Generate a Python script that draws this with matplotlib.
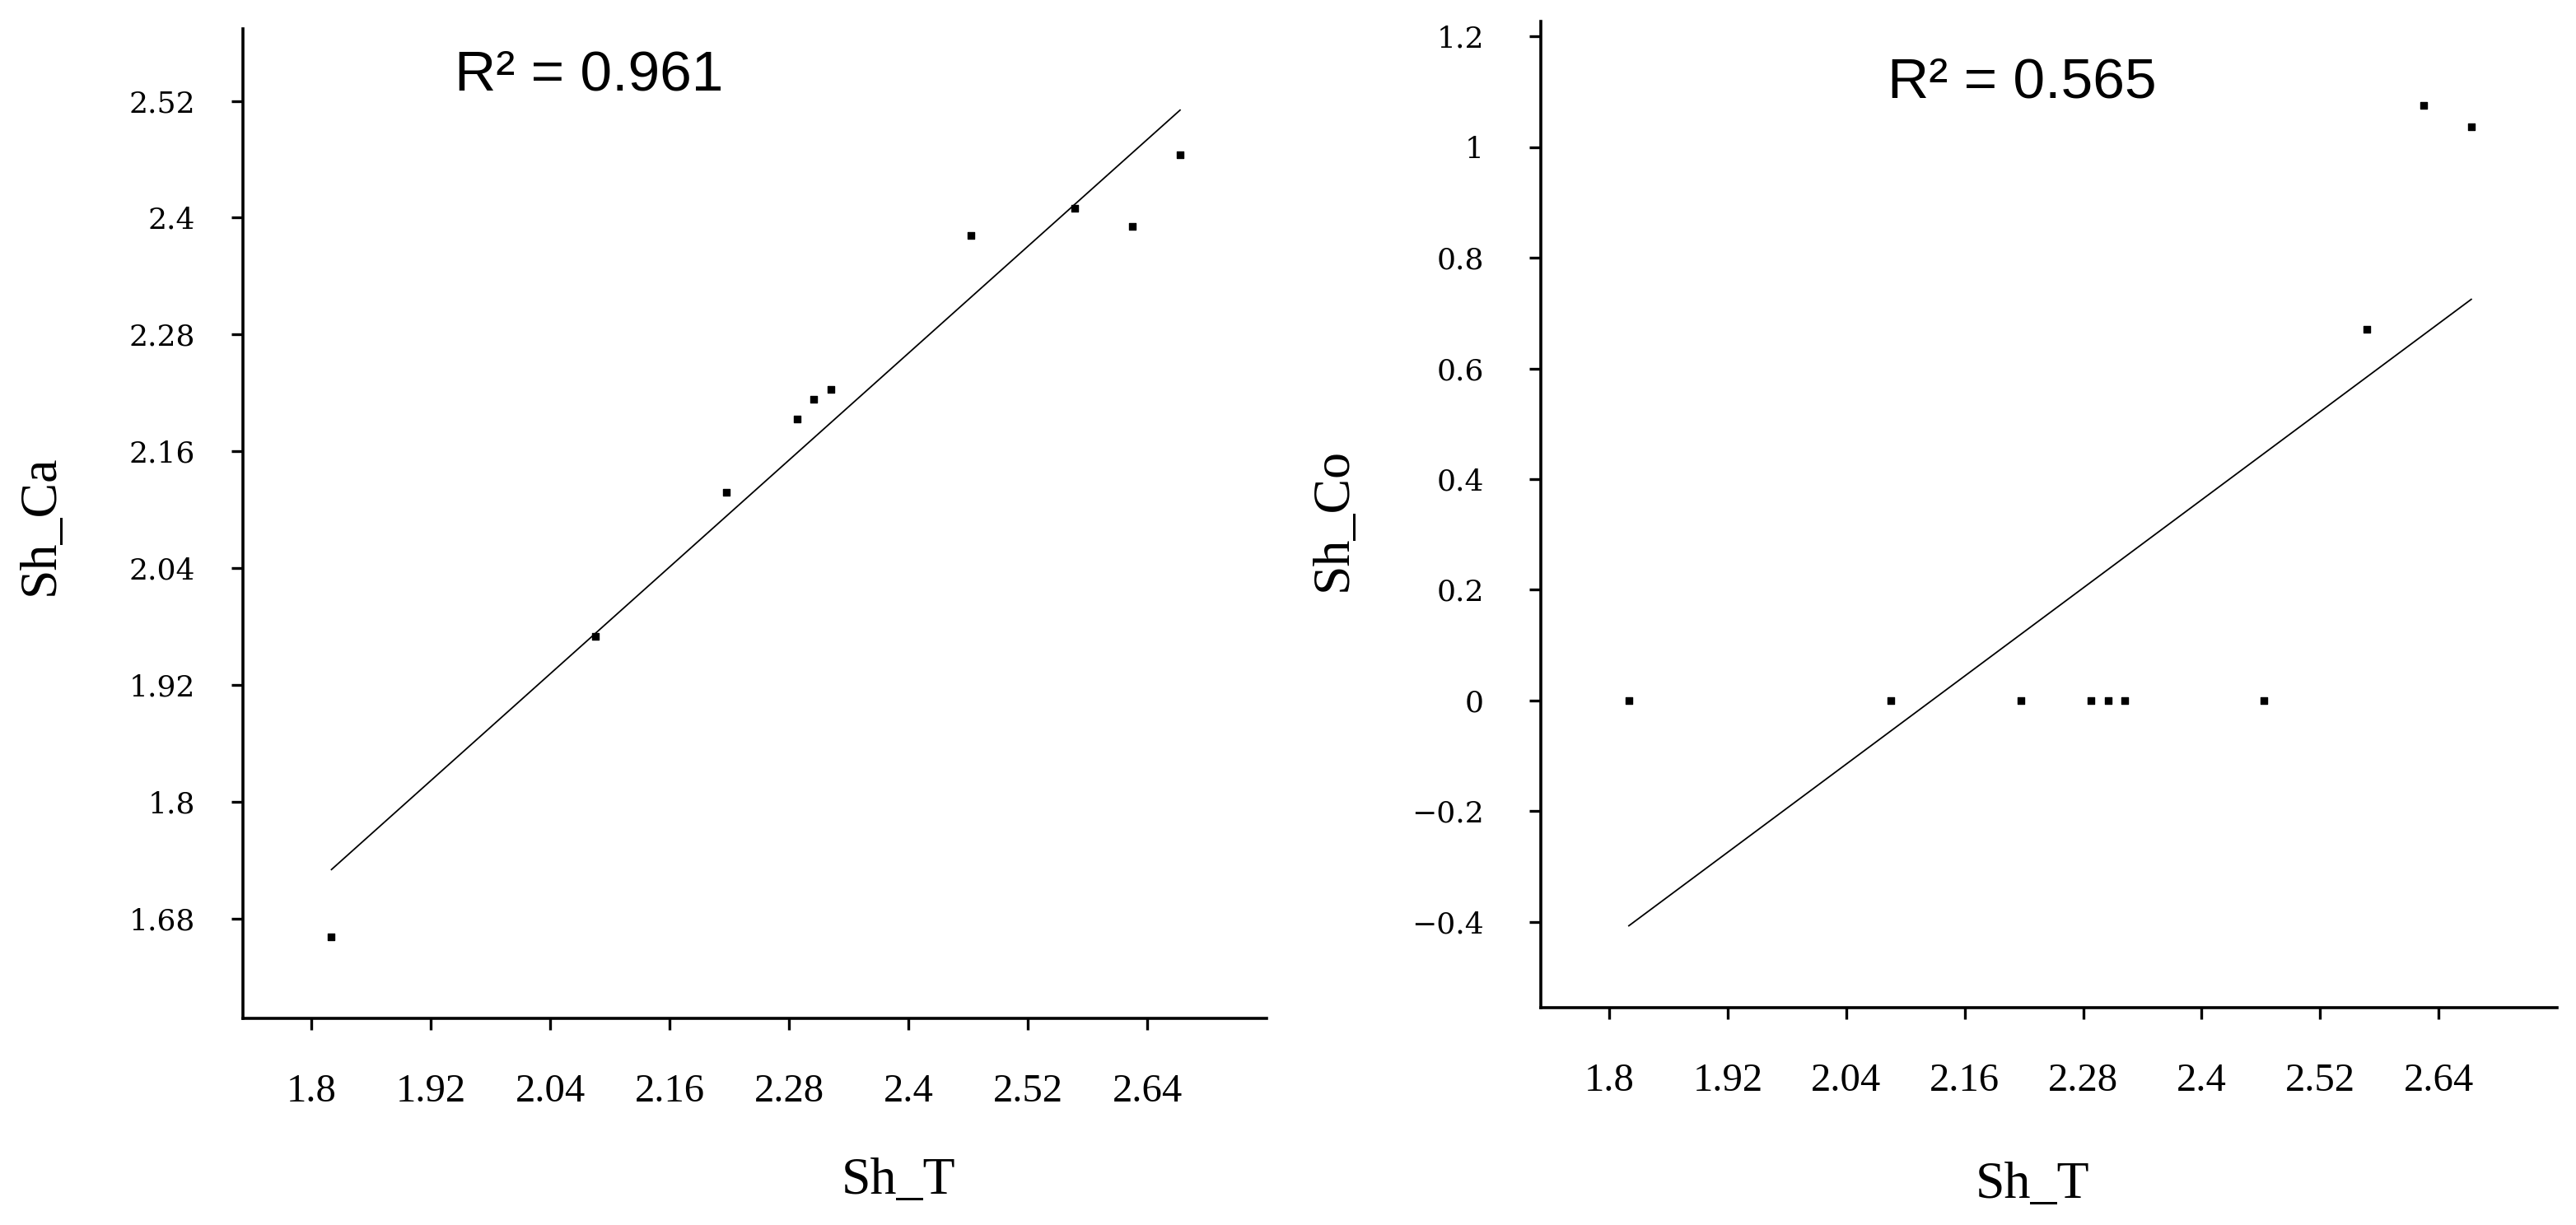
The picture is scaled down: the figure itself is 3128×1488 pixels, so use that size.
import matplotlib.pyplot as plt
import numpy as np

# Sh_T is shared by both panels
sh_t = [1.82, 2.085, 2.217, 2.288, 2.305, 2.322, 2.463, 2.567, 2.625, 2.673]
sh_ca = [1.662, 1.97, 2.118, 2.193, 2.214, 2.224, 2.382, 2.41, 2.391, 2.465]
sh_co = [0, 0, 0, 0, 0, 0, 0, 0.671, 1.076, 1.037]

x_ticks = [1.8, 1.92, 2.04, 2.16, 2.28, 2.4, 2.52, 2.64]
x_tick_labels = ["1.8", "1.92", "2.04", "2.16", "2.28", "2.4", "2.52", "2.64"]
ca_ticks = [1.68, 1.8, 1.92, 2.04, 2.16, 2.28, 2.4, 2.52]
ca_tick_labels = ["1.68", "1.8", "1.92", "2.04", "2.16", "2.28", "2.4", "2.52"]
co_ticks = [-0.4, -0.2, 0, 0.2, 0.4, 0.6, 0.8, 1, 1.2]
co_tick_labels = ["\u22120.4", "\u22120.2", "0", "0.2", "0.4", "0.6", "0.8", "1", "1.2"]

r2_labels = ["R\u00b2 = 0.961", "R\u00b2 = 0.565"]

plt.rcParams['font.family'] = ['Liberation Serif', 'DejaVu Serif']

fig = plt.figure(figsize=(31.28, 14.88), dpi=100)


def panel(rect, y, yticks, yticklabels, ylim, ypad, r2, r2_pos):
    ax = fig.add_axes(rect)
    ax.scatter(sh_t, y, marker='s', s=40, color='black', zorder=3)

    # least squares trend line over the data range
    k, b = np.polyfit(sh_t, y, 1)
    xs = np.array([min(sh_t), max(sh_t)])
    ax.plot(xs, k * xs + b, color='black', lw=1.3)

    ax.set_xlim(1.731, 2.76)
    ax.set_ylim(*ylim)
    ax.set_xticks(x_ticks)
    ax.set_xticklabels(x_tick_labels, fontsize=35)
    ax.set_yticks(yticks)
    ax.set_yticklabels(yticklabels, fontsize=26, family='DejaVu Serif')

    for s in ['top', 'right']:
        ax.spines[s].set_visible(False)
    for s in ['left', 'bottom']:
        ax.spines[s].set_linewidth(2.6)
    ax.tick_params(axis='x', length=10, width=2.4, pad=38)
    ax.tick_params(axis='y', length=10, width=2.4, pad=ypad)

    ax.text(r2_pos[0], r2_pos[1], r2, transform=ax.transAxes, ha='center',
            va='baseline', fontsize=50, family=['Liberation Sans', 'DejaVu Sans'])
    return ax


panel([0.0943, 0.1687, 0.3974, 0.8078], sh_ca, ca_ticks, ca_tick_labels,
      (1.578, 2.594), 32, r2_labels[0], (0.338, 0.9376))
panel([0.5982, 0.1774, 0.3945, 0.8051], sh_co, co_ticks, co_tick_labels,
      (-0.555, 1.227), 40, r2_labels[1], (0.473, 0.923))

fig.text(50 / 3128, 1 - 638 / 1488, "Sh_Ca", rotation=90, ha='center', va='center', fontsize=46)
fig.text(1620 / 3128, 1 - 631 / 1488, "Sh_Co", rotation=90, ha='center', va='center', fontsize=46)
fig.text(1091 / 3128, 1 - 1450 / 1488, "Sh_T", ha='center', va='baseline', fontsize=46)
fig.text(2468 / 3128, 1 - 1455 / 1488, "Sh_T", ha='center', va='baseline', fontsize=46)

fig.savefig('out.png', dpi=100)
